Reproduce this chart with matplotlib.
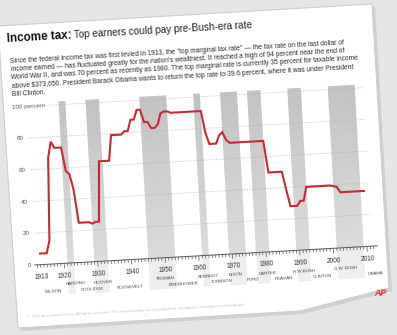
import numpy as np
import matplotlib as mpl
import matplotlib.pyplot as plt
from matplotlib.transforms import Affine2D
from matplotlib.patches import Polygon, Rectangle

mpl.rc('font', family='Liberation Sans')

# Top marginal income tax rate, 1913-2010 (percent)
years = np.arange(1913, 2011)
top_rate = [7, 7, 7, 15, 67, 77, 73, 73, 73, 58,
            56, 46, 25, 25, 25, 25, 24, 25, 25, 63,
            63, 63, 63, 79, 79, 79, 79, 81, 81, 88,
            88, 94, 94, 86, 86, 82, 82, 84, 91, 92,
            92, 91, 91, 91, 91, 91, 91, 91, 91, 91,
            91, 77, 70, 70, 70, 75, 77, 72, 70, 70,
            70, 70, 70, 70, 70, 70, 70, 70, 70, 50,
            50, 50, 50, 50, 38.5, 28, 28, 28, 31, 31,
            39.6, 39.6, 39.6, 39.6, 39.6, 39.6, 39.6, 39.6, 39.1, 38.6,
            35, 35, 35, 35, 35, 35, 35, 35]

decade_years = [1913, 1920, 1930, 1940, 1950, 1960, 1970, 1980, 1990, 2000, 2010]
grid_rates = [20, 40, 60, 80]

# shaded presidencies
band_start = [1921, 1929, 1945, 1961, 1969, 1977, 1989, 2001]
band_end = [1923, 1933, 1953, 1963, 1974, 1981, 1993, 2009]

pres_names = ['WILSON', 'HARDING', 'COOLIDGE', 'HOOVER', 'ROOSEVELT', 'TRUMAN',
              'EISENHOWER', 'KENNEDY', 'JOHNSON', 'NIXON', 'FORD', 'CARTER',
              'REAGAN', 'H.W BUSH', 'CLINTON', 'G.W. BUSH', 'OBAMA']
pres_year = [1916.5, 1923.2, 1927.8, 1931.2, 1939.1, 1949.6,
             1955.0, 1962.4, 1966.4, 1970.7, 1975.7, 1980.0,
             1984.9, 1990.9, 1996.2, 2003.4, 2012.0]
pres_row = [1, 0, 1, 0, 1, 0, 1, 0, 1, 0, 1, 0, 1, 0, 1, 0, 1]

title_bold = 'Income tax:'
title_rest = 'Top earners could pay pre-Bush-era rate'
body = ['Since the federal income tax was first levied in 1913, the "top marginal tax rate" \u2014 the tax rate on the last dollar of',
        'income earned \u2014 has fluctuated greatly for the nation\'s wealthiest. It reached a high of 94 percent near the end of',
        'World War II, and was 70 percent as recently as 1980. The top marginal rate is currently 35 percent for taxable income',
        'above \\$373,650. President Barack Obama wants to return the top rate to 39.6 percent, where it was under President',
        'Bill Clinton.']
credit = ('\u00a9 2010 Associated Press. All rights reserved. This material may not be published, '
          'broadcast, rewritten or redistributed.')

# Canvas in pixel units
fig = plt.figure(figsize=(3.97, 3.35), dpi=100, facecolor='#e6e6e6')
ax = fig.add_axes([0, 0, 1, 1])
ax.set_xlim(0, 397)
ax.set_ylim(335, 0)
ax.axis('off')

theta = 3.2
card = Affine2D().rotate_deg(-theta).translate(1, 25) + ax.transData

k = 3.37          # px per year
pv = 1.587        # px per percent
v0 = 241.5        # zero line
data = Affine2D().scale(k, -pv).translate(26.2 - 1913 * k, v0) + card

# card with shadow
corners = [(-2, 26), (372, 4), (389, 288), (300, 311), (18, 328)]
shadow = [(x + 3, y + 3) for x, y in corners]
ax.add_patch(Polygon(shadow, closed=True, fc='#d0d0d0', ec='none', zorder=0))
ax.add_patch(Polygon(corners, closed=True, fc='white', ec='#cdcdcd', lw=0.8, zorder=1))

# presidency bands, darker at top
n_sl = 24
top = 101.8
for a, b in zip(band_start, band_end):
    for j in range(n_sl):
        g = 0.76 + 0.10 * j / (n_sl - 1)
        ax.add_patch(Rectangle((a, top - (j + 1) * top / n_sl), b - a, top / n_sl + 0.3,
                               transform=data, fc=(g, g, g), ec='none', zorder=2))
    ax.add_patch(Rectangle((a, -19.8), b - a, 19.8, transform=data, fc='#eeeeee', ec='none', zorder=2))

# gridlines
for r in grid_rates:
    ax.plot([1911.75, 2011.5], [r, r], transform=data, color='#b5b5b5', lw=0.6, ls=(0, (1, 1.5)), zorder=3)
    ax.text(16.5, v0 - r * pv, str(r), transform=card, rotation=theta, rotation_mode='anchor',
            ha='right', va='center', fontsize=4.5, color='#555555', zorder=5)
ax.plot([1917, 2011.5], [100, 100], transform=data, color='#b5b5b5', lw=0.6, ls=(0, (1, 1.5)), zorder=3)
ax.text(6.3, v0 - 100 * pv, '100 percent', transform=card, rotation=theta, rotation_mode='anchor',
        ha='left', va='center', fontsize=4.5, color='#555555', zorder=5)
ax.text(16.5, v0, '0', transform=card, rotation=theta, rotation_mode='anchor',
        ha='right', va='center', fontsize=4.5, color='#555555', zorder=5)

# axis and ticks
ax.plot([1911.3, 2013], [0, 0], transform=data, color='#555555', lw=0.7, zorder=4)
tick_years = np.arange(1912, 2013)
tick_len = np.where(tick_years % 10 == 0, 5.0, 3.0) / pv
ax.vlines(tick_years, -tick_len, 0, transform=data, color='#555555', lw=0.5, zorder=4)
for yr in decade_years:
    ax.text(yr, -12.5 / pv, str(yr), transform=data, rotation=theta, rotation_mode='anchor',
            ha='center', va='center', fontsize=4.7, color='#333333', zorder=5)

# president names
for name, yr, row in zip(pres_names, pres_year, pres_row):
    ax.text(yr, -(21.0 + 6.3 * row) / pv, name, transform=data, rotation=theta, rotation_mode='anchor',
            ha='center', va='center', fontsize=3.2, color='#444444', zorder=5)

# rate line
ax.plot(years, top_rate, transform=data, color='#c62a2f', lw=1.5, solid_joinstyle='miter', zorder=6)

# title and description
ax.text(5, 17, title_bold, transform=card, rotation=theta, rotation_mode='anchor',
        ha='left', va='baseline', fontsize=8.4, fontweight='bold', color='#111111')
ax.text(72, 17, title_rest, transform=card, rotation=theta, rotation_mode='anchor',
        ha='left', va='baseline', fontsize=7.2, color='#222222')
for i, line in enumerate(body):
    ax.text(6.9, 38.4 + 8.2 * i, line, transform=card, rotation=theta, rotation_mode='anchor',
            ha='left', va='baseline', fontsize=4.8, color='#2a2a2a')

ax.text(9.7, 293, credit, transform=card, rotation=theta, rotation_mode='anchor',
        ha='left', va='center', fontsize=3.1, color='#c4c4c4')
ax.text(363.4, 288.8, 'AP', transform=card, rotation=theta, rotation_mode='anchor',
        ha='center', va='center', fontsize=6.5, fontweight='bold', fontstyle='italic', color='#e0301e')

fig.savefig('out.png', dpi=100, facecolor=fig.get_facecolor())
